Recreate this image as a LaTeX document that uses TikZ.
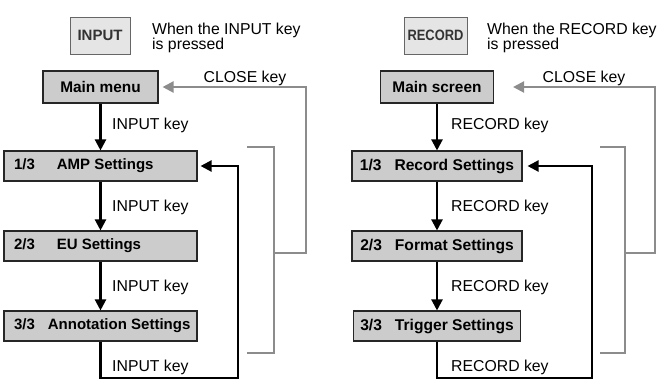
\documentclass[tikz,border=0pt]{standalone}
\usepackage{fontspec}
\usepackage{graphicx}
\setmainfont{Liberation Sans}
\usetikzlibrary{arrows.meta}
\tikzset{
  mainbox/.style={draw=black!85, fill=black!20, line width=1.1pt, inner xsep=0pt, inner ysep=0pt,
    minimum height=30pt, font=\bfseries\fontsize{15.4}{18}\selectfont},
  keybox/.style={draw=black!60, fill=black!10, line width=1pt, inner sep=0pt,
    minimum height=37pt, text=black!80, font=\bfseries\fontsize{15}{18}\selectfont},
  lbl/.style={anchor=west, inner sep=0pt, font=\fontsize{15.8}{15}\selectfont},
  flow/.style={line width=2.2pt, -{Triangle[length=11pt,width=11pt]}},
  grayline/.style={draw=black!45, line width=2.2pt},
  grayflow/.style={grayline, -{Triangle[length=11pt,width=11pt]}},
}
\newcommand{\leftrow}[3]{\makebox[173pt][l]{\fontsize{15}{18}\selectfont#1\hspace{#2}#3}}
\begin{document}
\begin{tikzpicture}[x=1pt,y=-1pt]
\useasboundingbox (0,0) rectangle (661,381);
% ---------- left ----------
\node[keybox, minimum width=60pt] (inkey) at (100,35.5) {INPUT};
\node[lbl, align=left] (intxt) at (152,37.5) {When the INPUT key\\is pressed};
\node[mainbox, minimum width=115pt, minimum height=32pt] (menu) at (100.5,87) {Main menu};
\node[mainbox, minimum width=193pt] (amp) at (100.5,166) {\leftrow{1/3}{22pt}{AMP Settings}};
\node[mainbox, minimum width=193pt] (eu) at (100.5,246) {\leftrow{2/3}{22pt}{EU Settings}};
\node[mainbox, minimum width=193pt] (ann) at (100.5,326) {\leftrow{3/3}{13pt}{Annotation Settings}};
\node[lbl] (lk1) at (112,125) {INPUT key};
\node[lbl] (lk2) at (112,207) {INPUT key};
\node[lbl] (lk3) at (112,287) {INPUT key};
\node[lbl] (lk4) at (112,367) {INPUT key};
\node[lbl, anchor=center] (lclose) at (245,78) {CLOSE key};
\draw[flow] (menu.south) -- (amp.north);
\draw[flow] (amp.south) -- (eu.north);
\draw[flow] (eu.south) -- (ann.north);
\coordinate (lloop) at (238,378);
\draw[flow, shorten >=3pt] (ann.south) |- (lloop) |- (amp.east);
\coordinate (lb1) at (247,147);
\coordinate (lb2) at (274,147);
\coordinate (lb3) at (274,353);
\coordinate (lb4) at (247,353);
\coordinate (lbm) at (274,253);
\coordinate (lgc) at (306,253);
\draw[grayline] (lb1) -- (lb2) -- (lb3) -- (lb4);
\draw[grayflow, shorten >=4pt] (lbm) -- (lgc) |- (menu.east);
% ---------- right ----------
\node[keybox, minimum width=63pt] (reckey) at (435.5,35.5) {\scalebox{0.86}[1]{RECORD}};
\node[lbl, align=left] (rectxt) at (487,37.5) {When the RECORD key\\is pressed};
\node[mainbox, minimum width=113pt, minimum height=32pt] (screen) at (437,87) {Main screen};
\node[mainbox, minimum width=170pt, font=\bfseries\fontsize{15.6}{18}\selectfont] (rec) at (437,166) {1/3\hspace{13pt}Record Settings};
\node[mainbox, minimum width=170pt, font=\bfseries\fontsize{15.6}{18}\selectfont] (fmt) at (437,246) {2/3\hspace{13pt}Format Settings};
\node[mainbox, minimum width=167pt, font=\bfseries\fontsize{15.6}{18}\selectfont] (trg) at (437,326) {3/3\hspace{13pt}Trigger Settings};
\node[lbl] (rk1) at (451,125) {RECORD key};
\node[lbl] (rk2) at (451,207) {RECORD key};
\node[lbl] (rk3) at (451,287) {RECORD key};
\node[lbl] (rk4) at (451,367) {RECORD key};
\node[lbl, anchor=center] (rclose) at (584,78) {CLOSE key};
\draw[flow] (screen.south) -- (rec.north);
\draw[flow] (rec.south) -- (fmt.north);
\draw[flow] (fmt.south) -- (trg.north);
\coordinate (rloop) at (592,378);
\draw[flow, shorten >=5pt] (trg.south) |- (rloop) |- (rec.east);
\coordinate (rb1) at (600,147);
\coordinate (rb2) at (625,147);
\coordinate (rb3) at (625,353);
\coordinate (rb4) at (600,353);
\coordinate (rbm) at (625,253);
\coordinate (rgc) at (655,253);
\draw[grayline] (rb1) -- (rb2) -- (rb3) -- (rb4);
\draw[grayflow, shorten >=19pt] (rbm) -- (rgc) |- (screen.east);
\end{tikzpicture}
\end{document}
